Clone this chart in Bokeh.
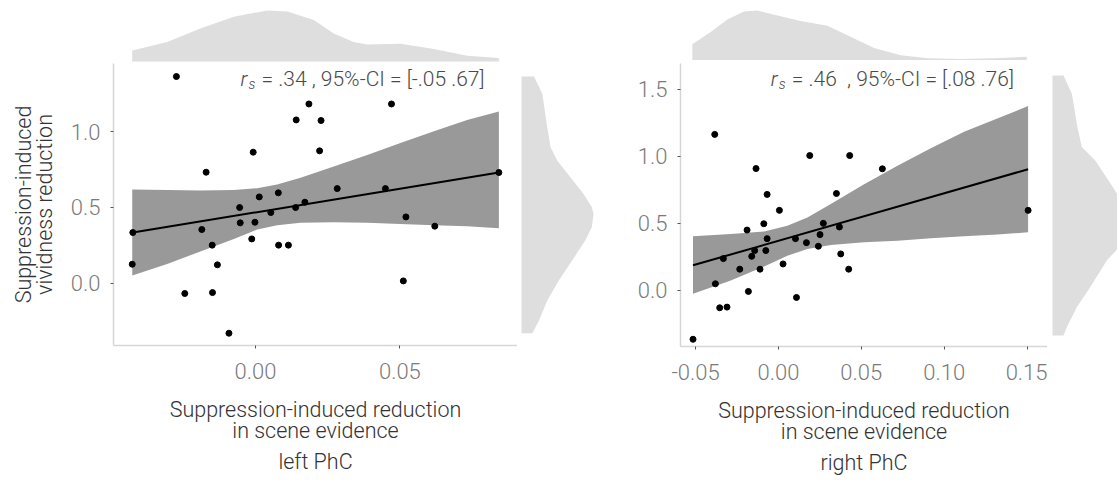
from bokeh.plotting import figure
from bokeh.layouts import row, column
from bokeh.models import Range1d, FixedTicker, Title, Label
from bokeh.embed import file_html
from bokeh.resources import INLINE

# ---------------- data: left PhC ----------------
left_x = [-0.0274, 0.0185, 0.0471, 0.0141, 0.0227, 0.0222, -0.0008, -0.0171, 0.0843, 0.0283,
          0.0450, 0.0079, 0.0013, 0.0171, -0.0055, 0.0139, 0.0053, 0.0521, -0.0002, -0.0053,
          0.0621, -0.0186, -0.0425, -0.0013, -0.0150, 0.0080, 0.0114, -0.0427, -0.0132, 0.0512,
          -0.0245, -0.0149, -0.0092]
left_y = [1.363, 1.182, 1.182, 1.077, 1.073, 0.873, 0.864, 0.732, 0.730, 0.624,
          0.624, 0.596, 0.569, 0.534, 0.499, 0.499, 0.466, 0.437, 0.402, 0.398,
          0.376, 0.354, 0.334, 0.292, 0.251, 0.251, 0.251, 0.125, 0.121, 0.015,
          -0.068, -0.062, -0.330]
left_fit_x = [-0.0425, 0.0843]
left_fit_y = [0.334, 0.730]
left_band_x = [-0.0427, -0.0306, -0.0191, -0.0075, 0.0006, 0.0075, 0.0156, 0.0271, 0.0387,
               0.0502, 0.0618, 0.0733, 0.0843]
left_band_lo = [0.051, 0.127, 0.209, 0.292, 0.354, 0.382, 0.398, 0.402, 0.398, 0.391, 0.382,
                0.376, 0.363]
left_band_hi = [0.618, 0.615, 0.612, 0.615, 0.626, 0.651, 0.695, 0.769, 0.846, 0.925, 1.002,
                1.077, 1.132]
left_top_x = [-0.0427, -0.0306, -0.0191, -0.0075, 0.0041, 0.0110, 0.0202, 0.0271, 0.0340,
              0.0387, 0.0502, 0.0618, 0.0733, 0.0843]
left_top_h = [0.213, 0.38, 0.647, 0.88, 1.0, 0.98, 0.813, 0.547, 0.38, 0.333, 0.347, 0.247,
              0.113, 0.067]
left_side_y = [1.363, 1.249, 1.029, 0.897, 0.809, 0.699, 0.589, 0.501, 0.457, 0.369, 0.281,
               0.149, 0.018, -0.114, -0.246, -0.330]
left_side_w = [0.174, 0.289, 0.358, 0.404, 0.495, 0.679, 0.862, 0.977, 1.0, 0.977, 0.885,
               0.702, 0.518, 0.358, 0.243, 0.151]
left_xticks = [0.0, 0.05]
left_xlabels = ["0.00", "0.05"]
left_yticks = [0.0, 0.5, 1.0]
left_ylabels = ["0.0", "0.5", "1.0"]

# ---------------- data: right PhC ----------------
right_x = [-0.0384, 0.0189, 0.0430, -0.0135, 0.0627, -0.0068, 0.0350, 0.0006, 0.1506, -0.0088,
           0.0271, 0.0368, -0.0189, 0.0251, -0.0068, 0.0103, 0.0169, 0.0241, -0.0143, -0.0076,
           0.0376, -0.0161, -0.0332, 0.0028, -0.0233, -0.0111, 0.0424, -0.0380, -0.0181, 0.0109,
           -0.0354, -0.0310, -0.0515]
right_y = [1.165, 1.007, 1.007, 0.910, 0.908, 0.717, 0.724, 0.598, 0.598, 0.498,
           0.501, 0.474, 0.451, 0.417, 0.387, 0.387, 0.357, 0.330, 0.298, 0.298,
           0.273, 0.255, 0.238, 0.198, 0.159, 0.159, 0.159, 0.050, -0.007, -0.052,
           -0.129, -0.124, -0.364]
right_fit_x = [-0.0515, 0.1506]
right_fit_y = [0.188, 0.905]
right_band_x = [-0.0515, -0.0287, -0.0086, 0.0054, 0.0175, 0.0316, 0.0517, 0.0718, 0.0919,
                0.1120, 0.1320, 0.1506]
right_band_lo = [-0.025, 0.074, 0.179, 0.260, 0.310, 0.340, 0.360, 0.372, 0.389, 0.404,
                 0.417, 0.434]
right_band_hi = [0.404, 0.421, 0.441, 0.484, 0.545, 0.645, 0.793, 0.930, 1.061, 1.185,
                 1.284, 1.376]
right_top_x = [-0.0519, -0.0408, -0.0308, -0.0207, -0.0127, -0.0006, 0.0134, 0.0296, 0.0416,
               0.0577, 0.0738, 0.0899, 0.110, 0.130, 0.1498]
right_top_h = [0.32, 0.564, 0.82, 0.98, 1.0, 0.897, 0.788, 0.692, 0.5, 0.244, 0.096, 0.038,
               0.019, 0.038, 0.064]
right_side_y = [1.604, 1.468, 1.219, 1.070, 0.970, 0.821, 0.696, 0.522, 0.323, 0.224, 0.025,
                -0.125, -0.274, -0.336]
right_side_w = [0.147, 0.258, 0.333, 0.391, 0.569, 0.747, 0.889, 1.0, 0.889, 0.724, 0.502,
                0.324, 0.191, 0.147]
right_xticks = [-0.05, 0.0, 0.05, 0.10, 0.15]
right_xlabels = ["-0.05", "0.00", "0.05", "0.10", "0.15"]
right_yticks = [0.0, 0.5, 1.0, 1.5]
right_ylabels = ["0.0", "0.5", "1.0", "1.5"]

x_title = "Suppression-induced reduction\nin scene evidence"
y_title = "Suppression-induced\nvividness reduction"
left_stat = "= .34 , 95%-CI = [-.05 .67]"
right_stat = "= .46\u00a0 , 95%-CI = [.08 .76]"

FONT = "Roboto Light, Roboto"
DENS = "#dedede"
BAND = "#999999"


def base(**kw):
    p = figure(output_backend="svg", toolbar_location=None, tools="", **kw)
    p.outline_line_color = None
    p.background_fill_color = "white"
    p.border_fill_color = "white"
    p.grid.visible = False
    return p


def scatter_panel(xr, yr, fw, fh, mbl, xs, ys, fx, fy, bx, blo, bhi,
                  xt, xl, yt, yl, ylab, facet, stat, sx, sy):
    p = base(x_range=xr, y_range=yr, frame_width=fw, frame_height=fh,
             min_border_left=mbl, min_border_right=0, min_border_top=0, min_border_bottom=4)
    p.varea(x=bx, y1=blo, y2=bhi, fill_color=BAND, fill_alpha=1.0)
    p.line(x=fx, y=fy, line_color="black", line_width=2)
    p.scatter(x=xs, y=ys, size=6, fill_color="black", line_color="black")
    for ax, ticks, labels in ((p.xaxis[0], xt, xl), (p.yaxis[0], yt, yl)):
        ax.ticker = FixedTicker(ticks=ticks, minor_ticks=[])
        ax.major_label_overrides = {t: s for t, s in zip(ticks, labels)}
        ax.axis_line_color = "#d6d6d6"
        ax.axis_line_width = 1.5
        ax.major_tick_line_color = "#555555"
        ax.major_tick_out = 3
        ax.major_tick_in = 0
        ax.minor_tick_line_color = None
        ax.major_label_text_font = FONT
        ax.major_label_text_font_size = "22px"
        ax.major_label_text_color = "#7a7a7a"
        ax.axis_label_text_font = FONT
        ax.axis_label_text_font_size = "21.5px"
        ax.axis_label_text_font_style = "normal"
        ax.axis_label_text_color = "#333333"
        ax.axis_label_text_line_height = 0.85
    p.xaxis.major_label_standoff = 14
    p.yaxis.major_label_standoff = 10
    p.xaxis.axis_label = x_title
    p.xaxis.axis_label_standoff = 15
    if ylab:
        p.yaxis.axis_label = ylab
        p.yaxis.axis_label_standoff = 11
    p.add_layout(Title(text=facet, align="center", text_font=FONT, text_font_size="21.5px",
                       text_font_style="normal", text_color="#333333", standoff=2), "below")
    common = dict(x=sx, y=sy, text_font=FONT, text_color="#4a4a4a", text_baseline="alphabetic")
    p.add_layout(Label(text="r", text_font_style="italic", text_font_size="21px", **common))
    p.add_layout(Label(text="s", text_font_style="italic", text_font_size="14px",
                       x_offset=8, y_offset=-5, **common))
    p.add_layout(Label(text=stat, text_font_size="21px", x_offset=21, **common))
    return p


def top_density(xr, fw, mbl, xs, hs, y0):
    p = base(x_range=xr, y_range=Range1d(y0, 1.04), frame_width=fw, frame_height=55,
             min_border_left=mbl, min_border_right=0, min_border_top=8, min_border_bottom=0,
             x_axis_location=None, y_axis_location=None)
    p.varea(x=xs, y1=[0] * len(xs), y2=hs, fill_color=DENS, fill_alpha=1.0)
    return p


def side_density(yr, fw, fh, ys, ws, x0, x1):
    p = base(x_range=Range1d(x0, x1), y_range=yr, frame_width=fw, frame_height=fh,
             min_border_left=0, min_border_right=0, min_border_top=63, min_border_bottom=0,
             x_axis_location=None, y_axis_location=None)
    p.harea(y=ys, x1=[0] * len(ys), x2=ws, fill_color=DENS, fill_alpha=1.0)
    return p


# left panel
lxr = Range1d(-0.04919, 0.09075)
lyr = Range1d(-0.411, 1.449)
scat_l = scatter_panel(lxr, lyr, 404, 282, 113, left_x, left_y, left_fit_x, left_fit_y,
                       left_band_x, left_band_lo, left_band_hi,
                       left_xticks, left_xlabels, left_yticks, left_ylabels,
                       y_title, "left PhC", left_stat, -0.0052, 1.350)
top_l = top_density(lxr, 404, 113, left_top_x, left_top_h, -0.04)
side_l = side_density(lyr, 83, 282, left_side_y, left_side_w, -4 / 72, 79 / 72)

# right panel
rxr = Range1d(-0.05905, 0.16230)
ryr = Range1d(-0.418, 1.694)
scat_r = scatter_panel(rxr, ryr, 367, 283, 80, right_x, right_y, right_fit_x, right_fit_y,
                       right_band_x, right_band_lo, right_band_hi,
                       right_xticks, right_xlabels, right_yticks, right_ylabels,
                       None, "right PhC", right_stat, -0.0046, 1.580)
top_r = top_density(rxr, 367, 80, right_top_x, right_top_h, -0.07)
side_r = side_density(ryr, 70, 283, right_side_y, right_side_w, -5 / 75, 65 / 75)

layout = row(column(top_l, scat_l, spacing=0), side_l,
             column(top_r, scat_r, spacing=0), side_r, spacing=0)

open("out.html", "w").write(file_html(layout, INLINE))
